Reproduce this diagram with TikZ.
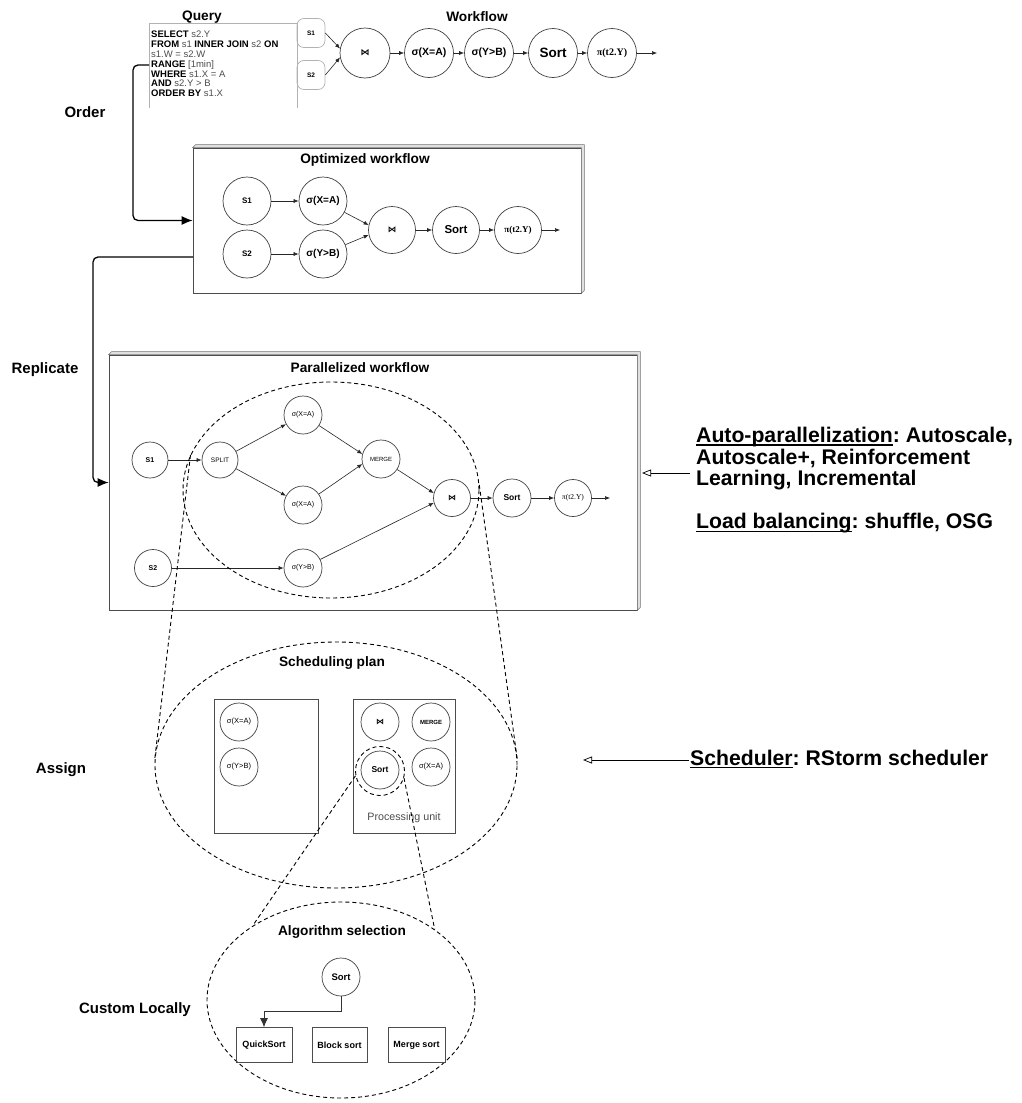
\documentclass[tikz,border=0pt]{standalone}
\usepackage{fontspec}
\setmainfont{Liberation Sans}
\newfontfamily\serpi{Liberation Serif}
\newfontfamily\djv{DejaVu Sans}
\usetikzlibrary{arrows.meta,shapes.geometric}
\newcommand{\fsz}[1]{\fontsize{#1}{#1}\selectfont}
\newcommand{\bowt}{{\djv\bfseries ⋈}}
\newcommand{\kw}[1]{\textbf{\textcolor{black}{#1}}}
\newcommand{\myul}[1]{{\setbox0=\hbox{#1}\rlap{\vrule width\wd0 height -1.7pt depth 3.1pt}\box0}}
\frenchspacing
\begin{document}
\begin{tikzpicture}[x=1pt,y=-1pt,
  op/.style={circle, draw=black!75, line width=0.7pt, inner sep=0pt, fill=white},
  flow/.style={-{Latex[length=5pt,width=4pt]}, draw=black!85, line width=0.6pt},
  bigarr/.style={-{Latex[length=11pt,width=9pt]}, line width=1.3pt, rounded corners=5pt},
  zl/.style={dash pattern=on 4pt off 3pt, line width=0.9pt},
  ttl/.style={font=\fsz{13.7}\bfseries},
  side/.style={font=\fsz{15}\bfseries},
  box3d/.style={draw=black!70, line width=0.7pt, fill=white, inner sep=0pt},
  face/.style={draw=black!55, line width=0.6pt, fill=black!12},
  src/.style={draw=black!30, line width=0.7pt, rounded corners=7pt, minimum width=28pt, minimum height=29pt, inner sep=0pt, font=\fsz{6.5}\bfseries},
  optarrow/.style={-{Triangle[open,length=9pt,width=7pt]}, line width=0.7pt},
  rlabel/.style={inner sep=0pt, font=\fontsize{21.2}{21.6}\selectfont\bfseries},
]
\useasboundingbox (0,0) rectangle (1021,1103);

% ---------------- Query ----------------
\node[ttl] (qtitle) at (202,17) {Query};
\draw[black!30, line width=0.7pt] (149,108) -- (149,23) -- (297,23);
\node[src] (qs1) at (311,33) {S1};
\node[src] (qs2) at (311,75) {S2};
\draw[black!30, line width=0.7pt] (297,23) -- (297,108);
\node[anchor=north west, align=left, inner sep=0pt, font=\fontsize{9.5}{9.8}\selectfont, text=black!70] (qtext) at (151,31)
 {\kw{SELECT} s2.Y\\ \kw{FROM} s1 \kw{INNER JOIN} s2 \kw{ON}\\ s1.W = s2.W\\ \kw{RANGE} [1min]\\ \kw{WHERE} s1.X = A\\ \kw{AND} s2.Y > B\\ \kw{ORDER BY} s1.X};
\coordinate (qrange) at (149,65);

% ---------------- Workflow ----------------
\node[ttl] (wtitle) at (477,17) {Workflow};
\node[op, minimum size=50pt, font=\fsz{9}] (wj) at (365,53) {\bowt};
\node[op, minimum size=49pt, font=\fsz{10.5}\bfseries] (wx) at (429,53) {σ(X=A)};
\node[op, minimum size=49pt, font=\fsz{10.5}\bfseries] (wy) at (489,53) {σ(Y>B)};
\node[op, minimum size=49pt, font=\fsz{13.5}\bfseries] (ws) at (553,53) {Sort};
\node[op, minimum size=49pt, font=\fsz{10}\serpi\bfseries] (wp) at (612,53) {π(t2.Y)};
\coordinate (wend) at (657,53);
\draw[flow] (qs1.east) -- (wj.170);
\draw[flow] (qs2.east) -- (wj.190);
\draw[flow] (wj) -- (wx);
\draw[flow] (wx) -- (wy);
\draw[flow] (wy) -- (ws);
\draw[flow] (ws) -- (wp);
\draw[flow] (wp) -- (wend);

\node[side] (lorder) at (85,112) {Order};

% ---------------- Optimized workflow ----------------
\node[box3d, minimum width=388pt, minimum height=145pt] (opt) at (387,220.5) {};
\draw[face] (opt.north west) -- ++(3,-3) -- ([shift={(3,-3)}]opt.north east) -- ([shift={(3,-3)}]opt.south east) -- (opt.south east) -- (opt.north east) -- cycle;
\node[ttl] (otitle) at (365,160) {Optimized workflow};
\node[op, minimum size=48pt, font=\fsz{8}\bfseries] (os1) at (247,201) {S1};
\node[op, minimum size=48pt, font=\fsz{8}\bfseries] (os2) at (247,254) {S2};
\node[op, minimum size=48pt, font=\fsz{10}\bfseries] (ox) at (323,201) {σ(X=A)};
\node[op, minimum size=48pt, font=\fsz{10}\bfseries] (oy) at (323,254) {σ(Y>B)};
\node[op, minimum size=47pt, font=\fsz{8.5}] (oj) at (392,230) {\bowt};
\node[op, minimum size=47pt, font=\fsz{11.5}\bfseries] (os) at (456,230) {Sort};
\node[op, minimum size=47pt, font=\fsz{9}\serpi\bfseries] (op) at (518,230) {π(t2.Y)};
\coordinate (oend) at (560,230);
\draw[flow] (os1) -- (ox);
\draw[flow] (os2) -- (oy);
\draw[flow] (ox) -- (oj.168);
\draw[flow] (oy) -- (oj.192);
\draw[flow] (oj) -- (os);
\draw[flow] (os) -- (op);
\draw[flow] (op) -- (oend);

\draw[bigarr] (qrange) -- ++(-16,0) |- (opt.west);

% ---------------- Parallelized workflow ----------------
\node[box3d, minimum width=528pt, minimum height=255pt] (par) at (373,482.5) {};
\draw[face] (par.north west) -- ++(3,-3) -- ([shift={(3,-3)}]par.north east) -- ([shift={(3,-3)}]par.south east) -- (par.south east) -- (par.north east) -- cycle;
\node[ttl] (ptitle) at (360,368) {Parallelized workflow};
\coordinate (ropt) at (193,257);
\draw[bigarr] (ropt) -- ++(-100,0) |- (par.west);
\node[side] (lrepl) at (45,370) {Replicate};

\node[op, minimum size=36pt, font=\fsz{7}\bfseries] (ps1) at (150,460) {S1};
\node[op, minimum size=36pt, font=\fsz{6.5}] (psp) at (220,460) {SPLIT};
\node[op, minimum size=38pt, font=\fsz{7}] (px1) at (303,415) {σ(X=A)};
\node[op, minimum size=38pt, font=\fsz{7}] (px2) at (303,505) {σ(X=A)};
\node[op, minimum size=38pt, font=\fsz{6}] (pm) at (381,459) {MERGE};
\node[op, minimum size=37pt, font=\fsz{8}] (pj) at (452,498) {\bowt};
\node[op, minimum size=38pt, font=\fsz{8.5}\bfseries] (ps) at (512,498) {Sort};
\node[op, minimum size=37pt, font=\fsz{7.5}\serpi] (pp) at (573,498) {π(t2.Y)};
\coordinate (pend) at (610,498);
\node[op, minimum size=37pt, font=\fsz{7}\bfseries] (ps2) at (153,568) {S2};
\node[op, minimum size=38pt, font=\fsz{7}] (py) at (303,568) {σ(Y>B)};
\draw[flow] (ps1) -- (psp);
\draw[flow] (psp) -- (px1);
\draw[flow] (psp) -- (px2);
\draw[flow] (px1) -- (pm.165);
\draw[flow] (px2) -- (pm.195);
\draw[flow] (pm) -- (pj.165);
\draw[flow] (py) -- (pj.195);
\draw[flow] (pj) -- (ps);
\draw[flow] (ps) -- (pp);
\draw[flow] (pp) -- (pend);
\draw[flow] (ps2) -- (py);
\node[ellipse, draw, zl, minimum width=296pt, minimum height=216pt, inner sep=0pt] (pz) at (331,490) {};

% ---------------- Scheduling plan ----------------
\node[ellipse, draw, zl, minimum width=362pt, minimum height=246pt, inner sep=0pt] (sz) at (336,765) {};
\draw[zl] (pz.166) -- (sz.178);
\draw[zl] (pz.2) -- (sz.2);
\node[ttl] (stitle) at (332,663) {Scheduling plan};
\node[draw=black!70, line width=0.7pt, minimum width=104pt, minimum height=134pt, inner sep=0pt] (lb) at (266,766) {};
\node[draw=black!70, line width=0.7pt, minimum width=102pt, minimum height=134pt, inner sep=0pt] (rb) at (404,766) {};
\node[op, minimum size=38pt, font=\fsz{7.5}] (sx1) at (239,722) {σ(X=A)};
\node[op, minimum size=38pt, font=\fsz{7.5}] (sy1) at (239,767) {σ(Y>B)};
\node[op, minimum size=38pt, font=\fsz{8}] (sj) at (380,722) {\bowt};
\node[op, minimum size=38pt, font=\fsz{6}\bfseries] (sm) at (431,722) {MERGE};
\node[op, minimum size=38pt, font=\fsz{8.5}\bfseries] (ss) at (380,770) {Sort};
\node[op, minimum size=38pt, font=\fsz{7.5}] (sx2) at (431,767) {σ(X=A)};
\node[circle, draw, zl, minimum size=49pt, inner sep=0pt] (sd) at (380,771) {};
\node[font=\fsz{10.7}, text=black!70, inner sep=0pt] (punit) at (404,818) {Processing unit};
\node[side] (lassign) at (61,770) {Assign};

% ---------------- Algorithm selection ----------------
\node[ellipse, draw, zl, minimum width=268pt, minimum height=196pt, inner sep=0pt] (az) at (341,1000) {};
\draw[zl] (sd.191) -- (az.140);
\draw[zl] (sd.344) -- (az.37);
\node[ttl] (atitle) at (342,932) {Algorithm selection};
\node[op, minimum size=38pt, font=\fsz{9.5}\bfseries] (as) at (341,977) {Sort};
\node[draw=black!70, line width=0.7pt, minimum width=56pt, minimum height=35pt, inner sep=0pt, font=\fsz{9}\bfseries] (aq) at (264,1045) {QuickSort};
\node[draw=black!70, line width=0.7pt, minimum width=55pt, minimum height=35pt, inner sep=0pt, font=\fsz{9}\bfseries] (ab) at (339.5,1045) {Block sort};
\node[draw=black!70, line width=0.7pt, minimum width=57pt, minimum height=35pt, inner sep=0pt, font=\fsz{9}\bfseries] (am) at (416.5,1045) {Merge sort};
\draw[-{Latex[length=9pt,width=8pt]}, line width=0.8pt, draw=black!80] (as.south) -- ++(0,15) -| (aq.north);
\node[side] (lcustom) at (135,1010) {Custom Locally};

% ---------------- Right annotations ----------------
\node[rlabel, anchor=north west, align=left] (auto) at (696,427)
 {\myul{Auto-parallelization}: Autoscale,\\Autoscale+, Reinforcement\\Learning, Incremental\\[21.6pt]\myul{Load balancing}: shuffle, OSG};
\coordinate (autotip) at (642,473);
\draw[optarrow] ([xshift=-6pt]autotip -| auto.west) -- (autotip);
\node[rlabel, anchor=west] (sched) at (690,759) {\myul{Scheduler}: RStorm scheduler};
\coordinate (schedtip) at (583,760);
\draw[optarrow] ([xshift=-1pt]sched.west |- schedtip) -- (schedtip);
\end{tikzpicture}
\end{document}
